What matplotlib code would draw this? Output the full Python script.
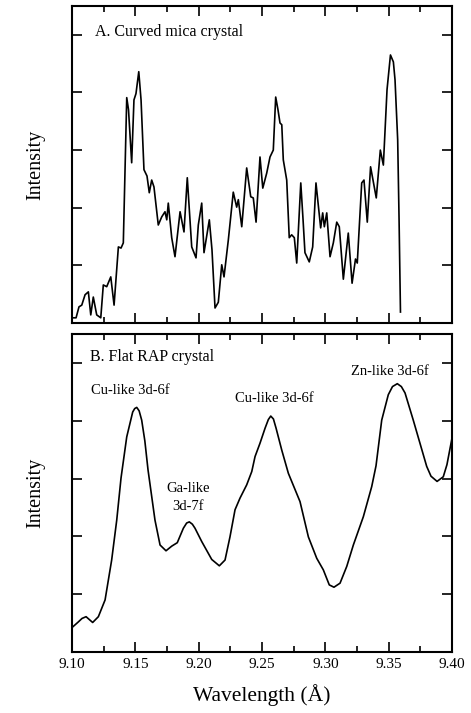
import matplotlib
matplotlib.use("Agg")
from matplotlib import pyplot as plt
from matplotlib.ticker import MultipleLocator
import numpy as np

plt.rcParams['font.family'] = ['Liberation Serif', 'DejaVu Serif']

# panel A: curved mica crystal (wavelength in A, intensity in tick units)
wl_a = [9.1004, 9.1032, 9.1055, 9.1077, 9.1103, 9.1129, 9.1148, 9.1168, 9.1195, 9.1227,
        9.1247, 9.1274, 9.1306, 9.1332, 9.1366, 9.1387, 9.1405, 9.1432, 9.1446, 9.1471,
        9.1489, 9.1505, 9.1527, 9.1545, 9.1568, 9.1592, 9.1610, 9.1629, 9.1647, 9.1681,
        9.1708, 9.1734, 9.1748, 9.1760, 9.1787, 9.1813, 9.1853, 9.1884, 9.1910, 9.1945,
        9.1979, 9.1997, 9.2024, 9.2042, 9.2084, 9.2105, 9.2129, 9.2155, 9.2182, 9.2200,
        9.2234, 9.2273, 9.2300, 9.2313, 9.2340, 9.2379, 9.2411, 9.2431, 9.2453, 9.2484,
        9.2506, 9.2537, 9.2563, 9.2589, 9.2608, 9.2626, 9.2642, 9.2656, 9.2668, 9.2695,
        9.2715, 9.2734, 9.2755, 9.2774, 9.2806, 9.2824, 9.2839, 9.2873, 9.2900, 9.2926,
        9.2963, 9.2979, 9.2992, 9.3011, 9.3037, 9.3063, 9.3090, 9.3110, 9.3142, 9.3181,
        9.3211, 9.3238, 9.3252, 9.3287, 9.3305, 9.3331, 9.3357, 9.3402, 9.3434, 9.3458,
        9.3487, 9.3514, 9.3537, 9.3550, 9.3571, 9.3582, 9.3593]
int_a = [0.09, 0.09, 0.28, 0.31, 0.49, 0.54, 0.14, 0.45, 0.14, 0.09,
         0.66, 0.63, 0.80, 0.31, 1.32, 1.30, 1.39, 3.91, 3.70, 2.78,
         3.87, 3.98, 4.36, 3.87, 2.66, 2.55, 2.26, 2.48, 2.36, 1.70,
         1.84, 1.93, 1.79, 2.08, 1.48, 1.15, 1.93, 1.58, 2.52, 1.32,
         1.13, 1.70, 2.08, 1.22, 1.79, 1.27, 0.26, 0.36, 1.01, 0.80,
         1.44, 2.27, 2.01, 2.14, 1.67, 2.69, 2.19, 2.17, 1.75, 2.88,
         2.34, 2.60, 2.88, 3.00, 3.92, 3.70, 3.47, 3.44, 2.83, 2.48,
         1.48, 1.53, 1.48, 1.04, 2.43, 1.79, 1.22, 1.06, 1.32, 2.43,
         1.65, 1.91, 1.67, 1.91, 1.15, 1.39, 1.75, 1.67, 0.76, 1.56,
         0.69, 1.11, 1.04, 2.43, 2.48, 1.75, 2.71, 2.17, 3.00, 2.74,
         4.05, 4.65, 4.53, 4.22, 3.18, 1.79, 0.19]

# panel B: flat RAP crystal
wl_b = [9.1004, 9.1050, 9.1079, 9.1111, 9.1163, 9.1208, 9.1261, 9.1313, 9.1353, 9.1387,
        9.1432, 9.1479, 9.1495, 9.1511, 9.1530, 9.1550, 9.1575, 9.1600, 9.1655, 9.1695,
        9.1742, 9.1787, 9.1831, 9.1879, 9.1905, 9.1926, 9.1950, 9.1971, 9.2024, 9.2103,
        9.2163, 9.2208, 9.2247, 9.2287, 9.2326, 9.2379, 9.2419, 9.2445, 9.2484, 9.2524,
        9.2550, 9.2569, 9.2590, 9.2611, 9.2656, 9.2708, 9.2800, 9.2866, 9.2932, 9.2984,
        9.3031, 9.3068, 9.3116, 9.3169, 9.3221, 9.3300, 9.3366, 9.3400, 9.3445, 9.3497,
        9.3530, 9.3568, 9.3600, 9.3629, 9.3694, 9.3747, 9.3800, 9.3834, 9.3882, 9.3931,
        9.3960, 9.4000]
int_b = [0.43, 0.52, 0.58, 0.61, 0.51, 0.61, 0.90, 1.59, 2.28, 3.01,
         3.72, 4.15, 4.21, 4.23, 4.17, 4.01, 3.65, 3.15, 2.28, 1.85,
         1.75, 1.83, 1.89, 2.14, 2.23, 2.25, 2.21, 2.14, 1.91, 1.60,
         1.49, 1.59, 1.99, 2.46, 2.66, 2.89, 3.12, 3.38, 3.61, 3.87,
         4.02, 4.08, 4.03, 3.87, 3.49, 3.09, 2.60, 1.99, 1.62, 1.42,
         1.16, 1.12, 1.19, 1.48, 1.85, 2.34, 2.86, 3.22, 4.01, 4.45,
         4.59, 4.64, 4.59, 4.48, 4.01, 3.61, 3.21, 3.04, 2.95, 3.03,
         3.24, 3.70]

peak_labels = ["Cu-like 3d-6f", "Ga-like\n3d-7f", "Cu-like 3d-6f", "Zn-like 3d-6f"]
peak_pos = [(9.1458, 4.53), (9.1916, 2.68), (9.2595, 4.38), (9.3510, 4.85)]
xticks = [9.10, 9.15, 9.20, 9.25, 9.30, 9.35, 9.40]

fig = plt.figure(figsize=(4.71, 7.13), dpi=100)
ax1 = fig.add_axes([0.1529, 0.547, 0.8068, 0.4446])
ax2 = fig.add_axes([0.1529, 0.0856, 0.8068, 0.446])

ax1.plot(wl_a, int_a, color="black", lw=1.2)
ax2.plot(wl_b, int_b, color="black", lw=1.2)

for ax in (ax1, ax2):
    ax.set_xlim(9.10, 9.40)
    ax.set_ylim(0, 5.5)
    ax.set_xticks(xticks)
    ax.xaxis.set_minor_locator(MultipleLocator(0.025))
    ax.set_yticks([1, 2, 3, 4, 5])
    ax.set_yticklabels([])
    ax.tick_params(which="both", direction="in", top=True, right=True, width=1.2)
    ax.tick_params(which="major", length=7)
    ax.tick_params(which="minor", length=4)
    for s in ax.spines.values():
        s.set_linewidth(1.5)
    ax.set_ylabel("Intensity", fontsize=14.5, labelpad=16)

ax1.set_xticklabels([])
ax2.set_xticklabels(["%.2f" % t for t in xticks], fontsize=11)
ax2.tick_params(axis="x", pad=4)
ax2.set_xlabel("Wavelength (Å)", fontsize=15.5, labelpad=10)

ax1.text(0.06, 0.918, "A. Curved mica crystal", transform=ax1.transAxes,
         fontsize=11.5, va="center", ha="left")
ax2.text(0.047, 0.929, "B. Flat RAP crystal", transform=ax2.transAxes,
         fontsize=11.5, va="center", ha="left")
for lab, (x, y) in zip(peak_labels, peak_pos):
    ax2.text(x, y, lab, fontsize=10.5, ha="center", va="center", linespacing=1.5)

fig.savefig("out.png", dpi=100)
